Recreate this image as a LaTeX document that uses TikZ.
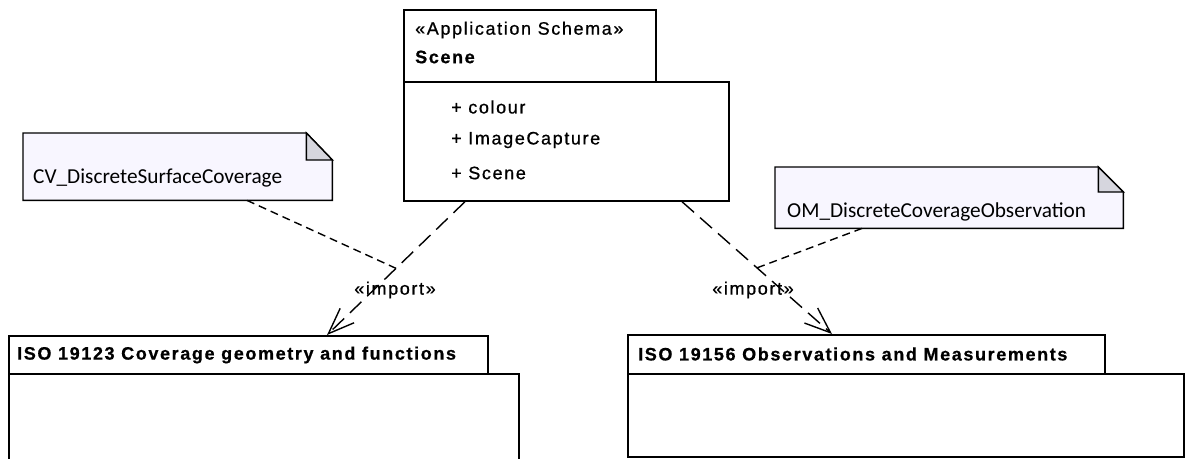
\documentclass[tikz,border=0pt]{standalone}
\usepackage{fontspec}
\setmainfont{Liberation Sans}
\newfontfamily\umlfont[LetterSpace=9, FakeBold=0.8]{Liberation Sans}
\newfontfamily\umlbold[LetterSpace=9, FakeBold=0.7]{Liberation Sans}
\newfontfamily\notefont{Carlito}
\usepackage{xcolor}
\definecolor{NoteFill}{RGB}{248,246,255}
\definecolor{FoldFill}{RGB}{214,214,222}
\usetikzlibrary{arrows.meta, positioning, calc}

\begin{document}
\begin{tikzpicture}[
  x=1pt, y=-1pt,
  pkgbox/.style={draw, line width=1.7pt, fill=white, anchor=north west, inner sep=0pt},
  notebox/.style={anchor=north west, inner sep=0pt},
  noteline/.style={draw, line width=1.4pt, fill=NoteFill},
  foldline/.style={draw, line width=1.4pt, fill=FoldFill, line join=miter},
  umltext/.style={font=\umlfont\fontsize{18}{21}\selectfont, inner sep=0pt},
  titletext/.style={font=\umlbold\bfseries\fontsize{18}{21}\selectfont, inner sep=0pt, anchor=west},
  notetext/.style={font=\notefont\fontsize{21.3}{25}\selectfont, inner sep=0pt, anchor=west},
  dep/.style={line width=1.4pt, dash pattern=on 16pt off 8pt, -{Straight Barb[length=26pt, width=20pt]}},
  notelink/.style={line width=1.4pt, dash pattern=on 8pt off 5pt}
]
\useasboundingbox (0,0) rectangle (1186,458);

% Scene package
\node[pkgbox, minimum width=325pt, minimum height=119pt] (scenebody) at (403,81) {};
\node[pkgbox, minimum width=252pt, minimum height=72pt] (scenetab) at (403,9) {};
\node[umltext, anchor=west] (stereo) at (415,30) {«Application Schema»};
\node[titletext] (scenename) at (415,57) {Scene};
\node[umltext, anchor=west] (attcolour) at (451,107) {+ colour};
\node[umltext, anchor=west] (attcapture) at (451,140) {+ ImageCapture};
\node[umltext, anchor=west] (attscene) at (451,173) {+ Scene};

% ISO 19123 package
\node[pkgbox, minimum width=510pt, minimum height=100pt] (cvbody) at (8,373) {};
\node[pkgbox, minimum width=479pt, minimum height=38pt] (cvtab) at (8,335) {};
\node[titletext] (cvname) at (17,355) {ISO 19123 Coverage geometry and functions};

% ISO 19156 package
\node[pkgbox, minimum width=556pt, minimum height=83pt] (ombody) at (627,373) {};
\node[pkgbox, minimum width=477pt, minimum height=39pt] (omtab) at (627,334) {};
\node[titletext] (omname) at (638,354) {ISO 19156 Observations and Measurements};

% Notes
\node[notebox, minimum width=309pt, minimum height=67pt] (cvnote) at (23,133) {};
\draw[noteline] (cvnote.north west) -- ([xshift=-26pt]cvnote.north east) -- ([yshift=-27pt]cvnote.north east)
  -- (cvnote.south east) -- (cvnote.south west) -- cycle;
\draw[foldline] ([xshift=-26pt]cvnote.north east) -- ([xshift=-26pt, yshift=-27pt]cvnote.north east)
  -- ([yshift=-27pt]cvnote.north east) -- cycle;
\node[notetext] (cvtext) at (33,178) {CV\_DiscreteSurfaceCoverage};

\node[notebox, minimum width=348pt, minimum height=61pt] (omnote) at (775,167) {};
\draw[noteline] (omnote.north west) -- ([xshift=-25pt]omnote.north east) -- ([yshift=-25pt]omnote.north east)
  -- (omnote.south east) -- (omnote.south west) -- cycle;
\draw[foldline] ([xshift=-25pt]omnote.north east) -- ([xshift=-25pt, yshift=-25pt]omnote.north east)
  -- ([yshift=-25pt]omnote.north east) -- cycle;
\node[notetext] (omtext) at (787,212) {OM\_DiscreteCoverageObservation};

% Imports
\draw[dep] ([xshift=62pt]scenebody.south west) -- coordinate[pos=0.5] (jl) ([xshift=319pt]cvtab.north west);
\draw[dep] ([xshift=279pt]scenebody.south west) -- coordinate[pos=0.5] (jr) ([xshift=205pt]omtab.north west);
\node[umltext] (implabl) at (395,290) {«import»};
\node[umltext] (implabr) at (753,290) {«import»};

% Note links
\draw[notelink] ([xshift=224pt]cvnote.south west) -- (jl);
\draw[notelink] ([xshift=87pt]omnote.south west) -- (jr);

\end{tikzpicture}
\end{document}
